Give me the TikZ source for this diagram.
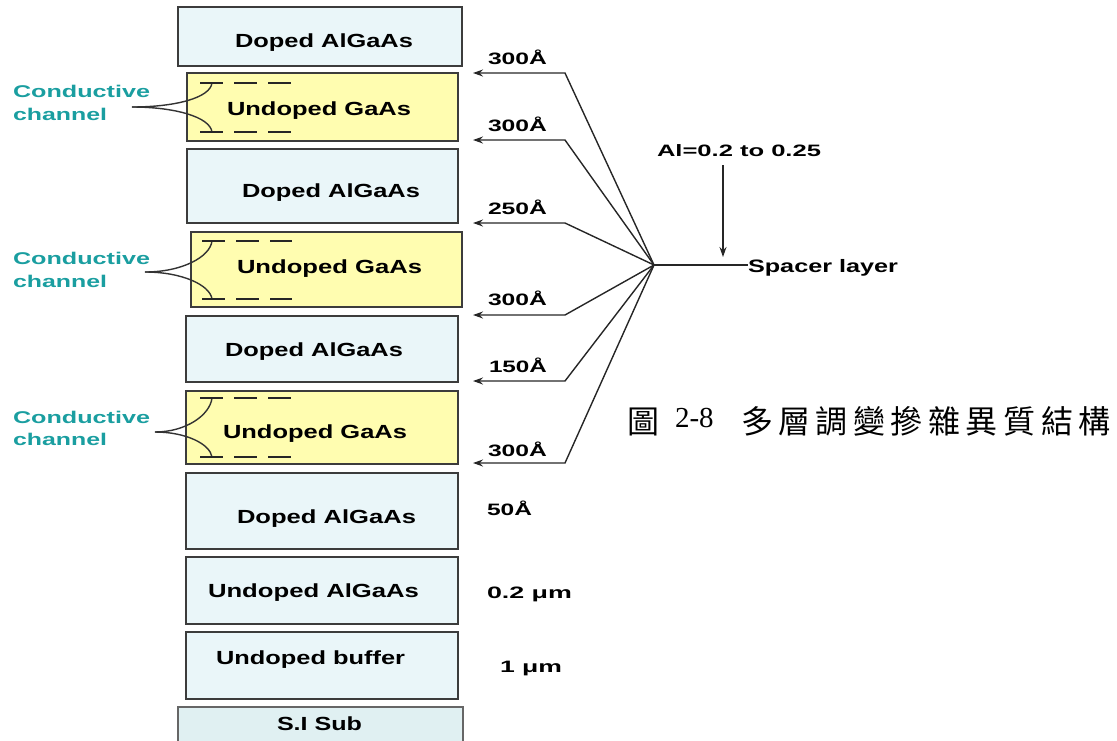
\documentclass[tikz,border=0pt]{standalone}
\usepackage{fontspec}
\setmainfont{Liberation Sans}
\newfontfamily\cjkfont{Noto Sans CJK TC}
\newfontfamily\capserif{Liberation Serif}
\usetikzlibrary{arrows.meta}
\definecolor{layerblue}{RGB}{234,246,249}
\definecolor{layeryellow}{RGB}{255,253,176}
\definecolor{subblue}{RGB}{224,240,242}
\definecolor{tealtext}{RGB}{26,158,160}
\definecolor{edgegray}{RGB}{60,60,60}
\newcommand\sw[2]{\resizebox{#1pt}{\height}{#2}}
\newcommand\ck{\kern5.5pt}
\tikzset{
  layer/.style={draw=edgegray, line width=1.8pt, fill=layerblue, inner sep=0pt, outer sep=0pt},
  gaas/.style={layer, fill=layeryellow},
  lbl/.style={anchor=base west, inner sep=0pt, outer sep=0pt, font=\bfseries\fontsize{19}{19}\selectfont},
  num/.style={lbl, font=\bfseries\fontsize{16.5}{16.5}\selectfont},
  tlbl/.style={lbl, text=tealtext, font=\bfseries\fontsize{17}{17}\selectfont},
  conn/.style={draw=black!85, line width=1.4pt},
  tip/.style={-{Stealth[length=10pt,width=7pt]}},
  bracket/.style={draw=black!80, line width=1.4pt},
  chdash/.style={draw=black!85, line width=2pt, dash pattern=on 23pt off 11pt},
  captxt/.style={anchor=base west, inner sep=0pt, outer sep=0pt, font=\fontsize{32}{32}\selectfont},
}
\begin{document}
\begin{tikzpicture}[x=1pt, y=-1pt]
\useasboundingbox (0,0) rectangle (1117,740);
\clip (0,0) rectangle (1117,740);

% layers
\node[layer, minimum width=284pt, minimum height=59pt] (b1) at (320,36.5) {};
\node[gaas,  minimum width=271pt, minimum height=68pt] (b2) at (322.5,107) {};
\node[layer, minimum width=271pt, minimum height=74pt] (b3) at (322.5,186) {};
\node[gaas,  minimum width=271pt, minimum height=75pt] (b4) at (326.5,269.5) {};
\node[layer, minimum width=272pt, minimum height=66pt] (b5) at (322,349) {};
\node[gaas,  minimum width=272pt, minimum height=73pt] (b6) at (322,427.5) {};
\node[layer, minimum width=272pt, minimum height=76pt] (b7) at (322,511) {};
\node[layer, minimum width=272pt, minimum height=67pt] (b8) at (322,590.5) {};
\node[layer, minimum width=272pt, minimum height=67pt] (b9) at (322,665.5) {};
\node[layer, draw=gray!80!black, fill=subblue, minimum width=285pt, minimum height=40pt] (b10) at (320.5,727) {};

% layer texts
\node[lbl] (t1) at (235,47) {\sw{178}{Doped AlGaAs}};
\node[lbl] (t2) at (227,115) {\sw{184}{Undoped GaAs}};
\node[lbl] (t3) at (242,197) {\sw{178}{Doped AlGaAs}};
\node[lbl] (t4) at (237,273) {\sw{185}{Undoped GaAs}};
\node[lbl] (t5) at (225,356) {\sw{178}{Doped AlGaAs}};
\node[lbl] (t6) at (223,438) {\sw{184}{Undoped GaAs}};
\node[lbl] (t7) at (237,523) {\sw{179}{Doped AlGaAs}};
\node[lbl] (t8) at (208,597) {\sw{211}{Undoped AlGaAs}};
\node[lbl] (t9) at (216,664) {\sw{189}{Undoped buffer}};
\node[lbl] (t10) at (277,730) {\sw{85}{S.I Sub}};

% conductive channel labels
\node[tlbl] (c1a) at (13,97) {\sw{137}{Conductive}};
\node[tlbl] (c1b) at (13,120) {\sw{94}{channel}};
\node[tlbl] (c2a) at (13,264) {\sw{137}{Conductive}};
\node[tlbl] (c2b) at (13,287) {\sw{94}{channel}};
\node[tlbl] (c3a) at (13,423) {\sw{137}{Conductive}};
\node[tlbl] (c3b) at (13,445) {\sw{94}{channel}};

% channel brackets and dashed channel lines
\coordinate (j1) at (132,107); \coordinate (u1) at (212,83);  \coordinate (l1) at (212,132);
\coordinate (j2) at (145,272); \coordinate (u2) at (212,241); \coordinate (l2) at (212,299);
\coordinate (j3) at (155,432); \coordinate (u3) at (212,398); \coordinate (l3) at (212,457);
\draw[bracket] (j1) .. controls +(43,0) and +(-2,15) .. (u1);
\draw[bracket] (j1) .. controls +(43,0) and +(-2,-15) .. (l1);
\draw[bracket] (j2) .. controls +(37,0) and +(-2,16) .. (u2);
\draw[bracket] (j2) .. controls +(37,0) and +(-2,-14) .. (l2);
\draw[bracket] (j3) .. controls +(31,0) and +(-2,17) .. (u3);
\draw[bracket] (j3) .. controls +(31,0) and +(-2,-13) .. (l3);
\draw[chdash] (200,83) -- (292,83);
\draw[chdash] (200,132) -- (292,132);
\draw[chdash] (202,241) -- (292,241);
\draw[chdash] (202,299) -- (292,299);
\draw[chdash] (200,398) -- (292,398);
\draw[chdash] (200,457) -- (292,457);

% thickness labels
\node[num] (n1) at (488,64) {\sw{59}{300Å}};
\node[num] (n2) at (488,131) {\sw{59}{300Å}};
\node[num] (n3) at (488,214) {\sw{59}{250Å}};
\node[num] (n4) at (488,305) {\sw{59}{300Å}};
\node[num] (n5) at (489,372) {\sw{58}{150Å}};
\node[num] (n6) at (488,456) {\sw{59}{300Å}};
\node[num] (n7) at (487,515) {\sw{45}{50Å}};
\node[num] (n8) at (487,598) {\sw{85}{0.2 μm}};
\node[num] (n9) at (500,672) {\sw{62}{1 μm}};

% spacer fan
\coordinate (F) at (654,265);
\coordinate (k1) at (565,73);  \coordinate (a1) at (473,73);
\coordinate (k2) at (565,140); \coordinate (a2) at (473,140);
\coordinate (k3) at (565,223); \coordinate (a3) at (473,223);
\coordinate (k4) at (565,315); \coordinate (a4) at (473,315);
\coordinate (k5) at (565,381); \coordinate (a5) at (473,381);
\coordinate (k6) at (565,463); \coordinate (a6) at (473,463);
\draw[conn, tip] (F) -- (k1) -- (a1);
\draw[conn, tip] (F) -- (k2) -- (a2);
\draw[conn, tip] (F) -- (k3) -- (a3);
\draw[conn, tip] (F) -- (k4) -- (a4);
\draw[conn, tip] (F) -- (k5) -- (a5);
\draw[conn, tip] (F) -- (k6) -- (a6);

\node[num] (al) at (657,156) {\sw{164}{Al=0.2 to 0.25}};
\node[lbl, font=\bfseries\fontsize{18}{18}\selectfont] (sp) at (748,272) {\sw{150}{Spacer layer}};
\draw[conn] (F) -- (F -| sp.west);
\coordinate (dtop) at (723,165);
\coordinate (dtip) at (723,257);
\draw[conn, tip] (dtop) -- (dtip);

% caption
\node[captxt] (cap1) at (627,433) {\cjkfont 圖};
\node[captxt, font=\fontsize{29}{29}\selectfont] (cap2) at (675,427) {\capserif 2-8};
\node[captxt] (cap3) at (741,433) {\cjkfont 多\ck 層\ck 調\ck 變\ck 摻\ck 雜\ck 異\ck 質\ck 結\ck 構};
\end{tikzpicture}
\end{document}
